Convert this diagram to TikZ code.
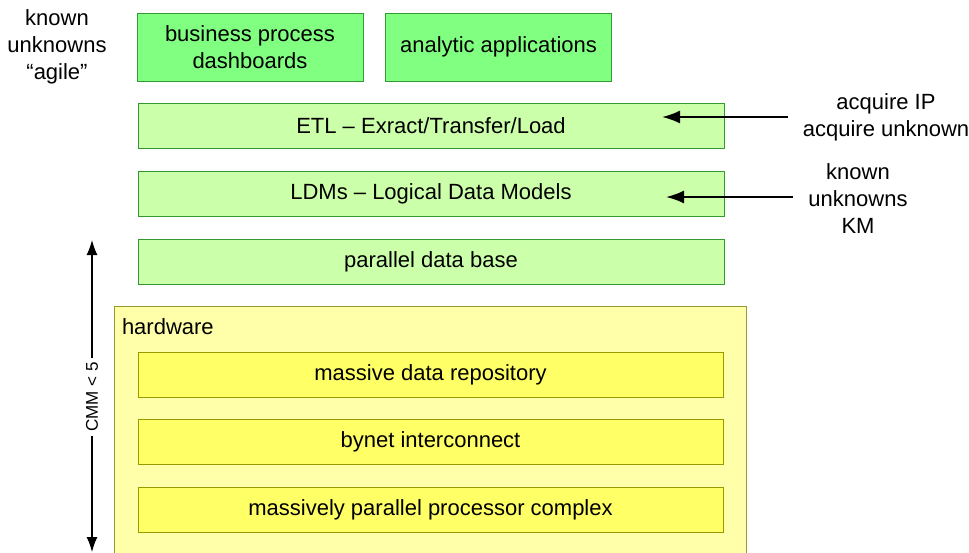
\documentclass[tikz,border=0pt]{standalone}
\usepackage{fontspec}
\setmainfont{Liberation Sans}
\usetikzlibrary{arrows.meta}
\definecolor{topgreen}{HTML}{80FF80}
\definecolor{litegreen}{HTML}{CCFFAA}
\definecolor{greenline}{HTML}{339933}
\definecolor{hwfill}{HTML}{FFFFAA}
\definecolor{hwline}{HTML}{999933}
\definecolor{yel}{HTML}{FFFF66}
\definecolor{yelline}{HTML}{999900}
\tikzset{
  every node/.style={font=\fontsize{22}{27}\selectfont, inner sep=0pt, outer sep=0pt},
  topbox/.style={draw=greenline, fill=topgreen, line width=1pt, align=center, minimum width=226pt, minimum height=68pt},
  layerbox/.style={draw=greenline, fill=litegreen, line width=1pt, minimum width=586pt, minimum height=45pt},
  hwbox/.style={draw=hwline, fill=hwfill, line width=1pt},
  ybox/.style={draw=yelline, fill=yel, line width=1pt, minimum width=585pt, minimum height=45pt},
  plaintext/.style={align=center},
  arr/.style={line width=2pt, -{Latex[length=18pt,width=13pt]}},
  darr/.style={line width=1.3pt, {Latex[length=15pt,width=11pt]}-{Latex[length=15pt,width=11pt]}}
}
\begin{document}
\begin{tikzpicture}[x=1pt,y=-1pt]
\useasboundingbox (0,0) rectangle (969,552);
\clip (0,0) rectangle (969,552);
\fill[white] (0,0) rectangle (969,552);

% top row
\node[plaintext] (agile) at (57,47) {known\\unknowns\\“agile”};
\node[topbox] (bpd) at (250,47) {business process\\dashboards};
\node[topbox] (aa) at (498.5,47) {analytic applications};

% software layers
\node[layerbox] (etl) at (431,125.5) {ETL – Exract/Transfer/Load};
\node[layerbox] (ldm) at (431,193.5) {LDMs – Logical Data Models};
\node[layerbox] (pdb) at (431,261.5) {parallel data base};

% hardware
\node[hwbox, minimum width=632pt, minimum height=262pt] (hw) at (430,437) {};
\node[anchor=west] (hwlabel) at (122,327) {hardware};
\node[ybox] (mdr) at (430.5,374.5) {massive data repository};
\node[ybox] (byn) at (430.5,441.5) {bynet interconnect};
\node[ybox] (mpp) at (430.5,509.5) {massively parallel processor complex};

% right annotations
\node[plaintext] (acq) at (886,117) {acquire IP\\acquire unknown};
\node[plaintext] (km) at (858,199) {known\\unknowns\\KM};
\coordinate (etltail) at (788,117);
\coordinate (etlhead) at (662,117);
\coordinate (ldmtail) at (793,197);
\coordinate (ldmhead) at (666,197);
\draw[arr] (etltail) -- (etlhead);
\draw[arr] (ldmtail) -- (ldmhead);

% CMM arrow
\coordinate (cmmtop) at (92,240);
\coordinate (cmmbot) at (92,552);
\draw[darr] (cmmbot) -- (cmmtop);
\node[fill=white, rotate=90, inner ysep=1pt, inner xsep=4pt, font=\fontsize{17}{20}\selectfont] (cmm) at (92,397) {CMM < 5};
\end{tikzpicture}
\end{document}
